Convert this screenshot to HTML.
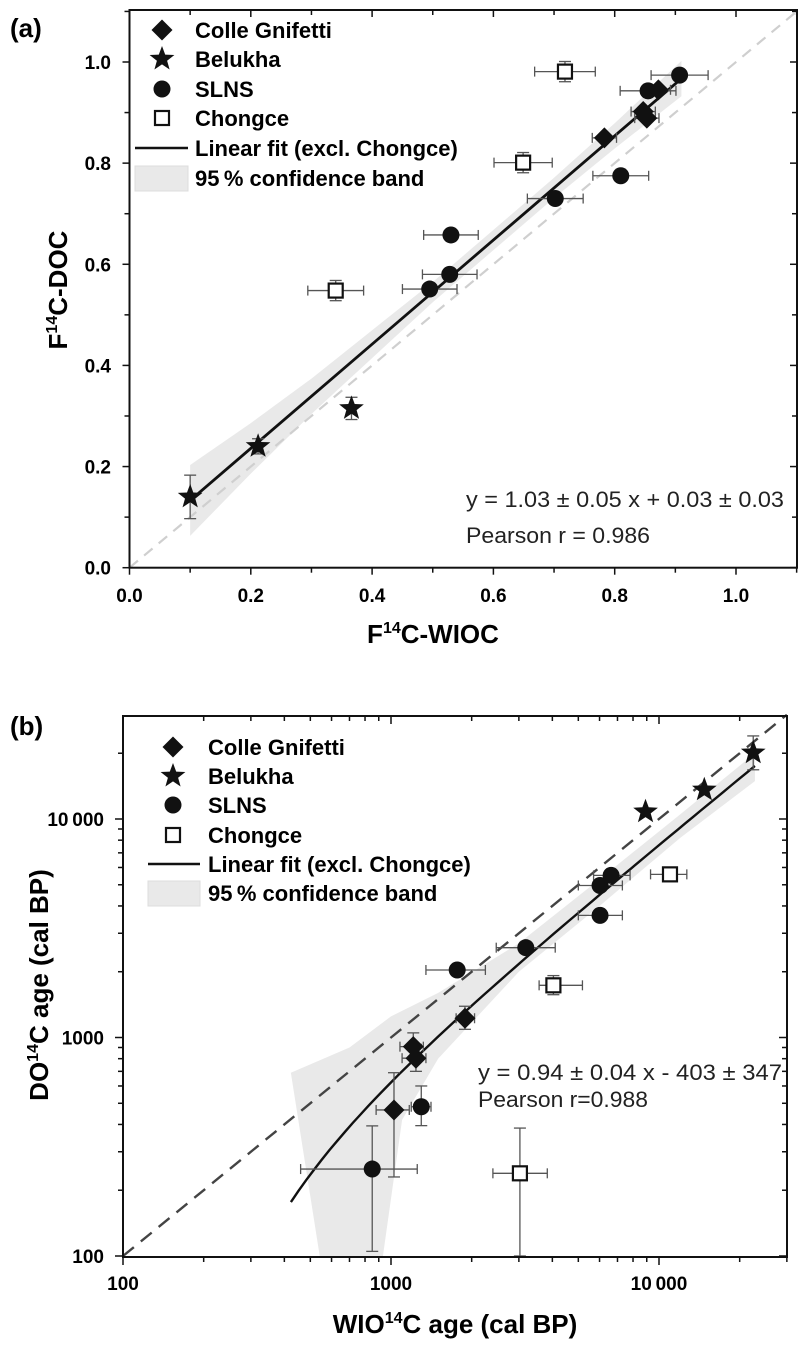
<!DOCTYPE html>
<html><head><meta charset="utf-8"><style>
html,body{margin:0;padding:0;background:#fff;}
svg{display:block;font-family:"Liberation Sans",Arial,sans-serif;}
.tk{font-weight:bold;font-size:19px;fill:#000;}
.ttl{font-weight:bold;font-size:26px;fill:#000;}
.leg{font-weight:bold;font-size:22px;fill:#000;}
.eq{font-size:22px;fill:#222;}
</style></head><body>
<svg id="fig" width="808" height="1352" viewBox="0 0 808 1352"></svg>
<script>
// ---------- Panel (a) data ----------
const aCGx=[0.783,0.847,0.853,0.872];
const aCGy=[0.850,0.902,0.889,0.945];
const aBelx=[0.100,0.212,0.366];
const aBely=[0.140,0.240,0.315];
const aBelYerr=[0.043,0.015,0.022];
const aSLx=[0.907,0.855,0.810,0.702,0.530,0.528,0.495];
const aSLy=[0.974,0.943,0.775,0.730,0.658,0.580,0.551];
const aSLXerr=[0.047,0.046,0.046,0.046,0.045,0.045,0.045];
const aCHx=[0.718,0.649,0.340];
const aCHy=[0.981,0.801,0.548];
const aCHXerr=[0.050,0.048,0.046];
const aFit=[1.03,0.03];          // slope, intercept
const aFitRange=[0.10,0.905];
const aBandX=[0.10,0.20,0.30,0.50,0.70,0.80,0.91];
const aBandHW=[0.070,0.050,0.035,0.020,0.020,0.025,0.035];
const aXTicks=[0.0,0.2,0.4,0.6,0.8,1.0];
const aYTicks=[0.0,0.2,0.4,0.6,0.8,1.0];
// ---------- Panel (b) data ----------
const bCGx=[1026,1211,1239,1888];
const bCGy=[466,908,804,1225];
const bBelx=[8908,14760,22470];
const bBely=[10800,13600,20100];
const bSLx=[851,1297,1766,3184,6026,6026,6627];
const bSLy=[250,482,2037,2577,3623,4963,5521];
const bCHx=[3027,4036,10990];
const bCHy=[239,1733,5580];
const bFit=[0.774,-151];
const bFitRange=[423,22800];
const bBandUpX=[423,700,1000,1500,3000,6000,12000,22800];
const bBandUpY=[690,900,1250,1600,2700,5300,10500,20000];
const bBandLoX=[22800,12000,6000,3000,1500,1100,933,542];
const bBandLoY=[14900,8200,4000,2000,800,420,100,100];
const bXTicks=[100,1000,10000];
const bXTickLabels=["100","1000","10\u2009000"];
const bYTicks=[100,1000,10000];
const bYTickLabels=["100","1000","10\u2009000"];

const NS="http://www.w3.org/2000/svg";
const svg=document.getElementById('fig');
function mk(tag,attrs,parent){const e=document.createElementNS(NS,tag);for(const k in attrs)e.setAttribute(k,attrs[k]);(parent||svg).appendChild(e);return e;}

const ax=v=>129.5+v*606.5, ay=v=>567.7-v*505.7;
const bx=v=>123+(Math.log10(v)-2)*268, by=v=>1256-(Math.log10(v)-2)*218.5;

function errX(g,x1,x2,y){const l=mk('g',{stroke:'#555','stroke-width':1.3},g);
 
 mk('line',{x1:x1,x2:x2,y1:y,y2:y},l);mk('line',{x1:x1,x2:x1,y1:y-5,y2:y+5},l);mk('line',{x1:x2,x2:x2,y1:y-5,y2:y+5},l);}
function errY(g,y1,y2,x){const l=mk('g',{stroke:'#555','stroke-width':1.3},g);
 
 mk('line',{x1:x,x2:x,y1:y1,y2:y2},l);mk('line',{x1:x-6,x2:x+6,y1:y1,y2:y1},l);mk('line',{x1:x-6,x2:x+6,y1:y2,y2:y2},l);}
function marker(g,type,x,y,name){let e;
 if(type==='d'){const s=10.5;e=mk('polygon',{points:`${x},${y-s} ${x+s},${y} ${x},${y+s} ${x-s},${y}`,fill:'#111'},g);}
 else if(type==='c'){e=mk('circle',{cx:x,cy:y,r:8.5,fill:'#111'},g);}
 else if(type==='s'){e=mk('rect',{x:x-7,y:y-7,width:14,height:14,fill:'#fff',stroke:'#111','stroke-width':2.2},g);}
 else {const R=13,r=5.4;let p=[];for(let i=0;i<10;i++){const a=-Math.PI/2+i*Math.PI/5;const rr=i%2?r:R;p.push((x+rr*Math.cos(a)).toFixed(1)+','+(y+rr*Math.sin(a)).toFixed(1));}
  e=mk('polygon',{points:p.join(' '),fill:'#111'},g);}
 
 
 return e;}
function txt(s,attrs,parent){const t=mk('text',attrs,parent);t.textContent=s;return t;}
function sup14(t,pre,post){const a=mk('tspan',{},t);a.textContent=pre;const b=mk('tspan',{'font-size':'16px',dy:-10},t);b.textContent='14';const c=mk('tspan',{dy:10},t);c.textContent=post;}

// ================= PANEL A =================
const pa=mk('g',{});


txt('(a)',{x:10,y:37,class:'ttl'},pa);
{let up=[],lo=[];for(let i=0;i<aBandX.length;i++){const f=aFit[0]*aBandX[i]+aFit[1];up.push(ax(aBandX[i])+','+ay(f+aBandHW[i]));lo.unshift(ax(aBandX[i])+','+ay(f-aBandHW[i]));}
 const b=mk('polygon',{points:up.concat(lo).join(' '),fill:'#e9e9e9'},pa);
 
 }
{const l=mk('line',{x1:ax(0),y1:ay(0),x2:ax(1.103),y2:ay(1.103),stroke:'#cfcfcf','stroke-width':2.2,'stroke-dasharray':'11 8'},pa);
 
 }
{const l=mk('line',{x1:ax(aFitRange[0]),y1:ay(aFit[0]*aFitRange[0]+aFit[1]),x2:ax(aFitRange[1]),y2:ay(aFit[0]*aFitRange[1]+aFit[1]),stroke:'#111','stroke-width':2.8},pa);
 
 }
aBelx.forEach((v,i)=>{errY(pa,ay(aBely[i]+aBelYerr[i]),ay(aBely[i]-aBelYerr[i]),ax(v));});
aSLx.forEach((v,i)=>{errX(pa,ax(v-aSLXerr[i]),ax(v+aSLXerr[i]),ay(aSLy[i]));});
aCHx.forEach((v,i)=>{errX(pa,ax(v-aCHXerr[i]),ax(v+aCHXerr[i]),ay(aCHy[i]));errY(pa,ay(aCHy[i]+0.02),ay(aCHy[i]-0.02),ax(v));});
aCGx.forEach((v,i)=>{errX(pa,ax(v-0.02),ax(v+0.02),ay(aCGy[i]));});
aSLx.forEach((v,i)=>marker(pa,'c',ax(v),ay(aSLy[i]),'slns-point'));
aCGx.forEach((v,i)=>marker(pa,'d',ax(v),ay(aCGy[i]),'colle-gnifetti-point'));
aBelx.forEach((v,i)=>marker(pa,'t',ax(v),ay(aBely[i]),'belukha-point'));
aCHx.forEach((v,i)=>marker(pa,'s',ax(v),ay(aCHy[i]),'chongce-point'));
{const r=mk('rect',{x:129.5,y:10,width:667.5,height:557.7,fill:'none',stroke:'#111','stroke-width':2},pa);
 
 }
for(let k=0;k<=11;k++){const v=k/10,maj=k%2===0,X=ax(v),Y=ay(v);
 mk('line',{x1:X,x2:X,y1:567.7,y2:567.7+(maj?7:5),stroke:'#111','stroke-width':1.5},pa);
 mk('line',{x1:X,x2:X,y1:10,y2:10+(maj?7:5),stroke:'#111','stroke-width':1.5},pa);
 mk('line',{x1:129.5,x2:129.5-(maj?7:5),y1:Y,y2:Y,stroke:'#111','stroke-width':1.5},pa);
 mk('line',{x1:797,x2:797-(maj?7:5),y1:Y,y2:Y,stroke:'#111','stroke-width':1.5},pa);}
aXTicks.forEach(v=>{const t=txt(v.toFixed(1),{x:ax(v),y:602,class:'tk','text-anchor':'middle'},pa);
 
 });
aYTicks.forEach(v=>{const t=txt(v.toFixed(1),{x:111,y:ay(v)+7,class:'tk','text-anchor':'end'},pa);
 
 });
{const t=mk('text',{x:433,y:643,class:'ttl','text-anchor':'middle'},pa);sup14(t,'F','C-WIOC');
 
 }
{const t=mk('text',{x:0,y:0,class:'ttl','text-anchor':'middle',transform:'translate(67,290) rotate(-90)'},pa);sup14(t,'F','C-DOC');
 
 }
{const t=txt('y  = 1.03 \u00b1 0.05  x + 0.03 \u00b1 0.03',{x:466,y:507,class:'eq',textLength:318,lengthAdjust:'spacingAndGlyphs'},pa);
 const p=txt('Pearson r = 0.986',{x:466,y:543,class:'eq',textLength:184,lengthAdjust:'spacingAndGlyphs'},pa);}

function legend(g,sx,tx,ys,lx1,lx2){
 const names=['Colle Gnifetti','Belukha','SLNS','Chongce','Linear fit (excl. Chongce)','95\u2009% confidence band'];
 const types=['d','t','c','s'];
 for(let i=0;i<6;i++){
  const eg=mk('g',{},g);
  
  
  if(i<4)marker(eg,types[i],sx,ys[i],'legend-symbol');
  else if(i===4)mk('line',{x1:lx1,x2:lx2,y1:ys[i],y2:ys[i],stroke:'#111','stroke-width':2.5},eg);
  else mk('rect',{x:lx1,y:ys[i]-12,width:lx2-lx1,height:25,fill:'#e9e9e9',stroke:'#ddd'},eg);
  txt(names[i],{x:tx,y:ys[i]+8,class:'leg'},eg);}
}
legend(pa,162,195,[30,59,89,118,148,178],135,188);

// ================= PANEL B =================
const pb=mk('g',{});


txt('(b)',{x:10,y:735,class:'ttl'},pb);
{let pts=[];bBandUpX.forEach((v,i)=>pts.push(bx(v)+','+by(bBandUpY[i])));bBandLoX.forEach((v,i)=>pts.push(bx(v)+','+by(bBandLoY[i])));
 const b=mk('polygon',{points:pts.join(' '),fill:'#e9e9e9'},pb);
 
 }
{const l=mk('line',{x1:bx(100),y1:by(100),x2:bx(30000),y2:by(30000),stroke:'#444','stroke-width':2.4,'stroke-dasharray':'14 9'},pb);
 
 }
{let pts=[];const n=60,l0=Math.log10(bFitRange[0]),l1=Math.log10(bFitRange[1]);
 for(let i=0;i<=n;i++){const x=Math.pow(10,l0+(l1-l0)*i/n);pts.push(bx(x).toFixed(1)+','+by(bFit[0]*x+bFit[1]).toFixed(1));}
 const l=mk('polyline',{points:pts.join(' '),fill:'none',stroke:'#111','stroke-width':2.4},pb);
 
 }
const bSLxe=[[460,1253],[1190,1410],[1350,2250],[2470,4100],[5000,7300],[5000,7300],[5700,7800]];
const bSLye=[[105,394],[395,600],null,null,null,null,null];
bSLx.forEach((v,i)=>{errX(pb,bx(bSLxe[i][0]),bx(bSLxe[i][1]),by(bSLy[i]));if(bSLye[i])errY(pb,by(bSLye[i][1]),by(bSLye[i][0]),bx(v));});
const bCGxe=[[880,1170],[1080,1320],[1100,1350],[1750,2050]];
const bCGye=[[230,690],[800,1050],[700,930],[1090,1390]];
bCGx.forEach((v,i)=>{errX(pb,bx(bCGxe[i][0]),bx(bCGxe[i][1]),by(bCGy[i]));errY(pb,by(bCGye[i][1]),by(bCGye[i][0]),bx(v));});
const bCHxe=[[2400,3830],[3570,5180],[9300,12700]];
const bCHye=[[100,385],[1570,1920],[5400,5760]];
bCHx.forEach((v,i)=>{errX(pb,bx(bCHxe[i][0]),bx(bCHxe[i][1]),by(bCHy[i]));errY(pb,by(bCHye[i][1]),by(Math.max(bCHye[i][0],95)),bx(v));});
errY(pb,by(24000),by(16800),bx(bBelx[2]));
bSLx.forEach((v,i)=>marker(pb,'c',bx(v),by(bSLy[i]),'slns-point'));
bCGx.forEach((v,i)=>marker(pb,'d',bx(v),by(bCGy[i]),'colle-gnifetti-point'));
bBelx.forEach((v,i)=>marker(pb,'t',bx(v),by(bBely[i]),'belukha-point'));
bCHx.forEach((v,i)=>marker(pb,'s',bx(v),by(bCHy[i]),'chongce-point'));
{const r=mk('rect',{x:123,y:716,width:664,height:541,fill:'none',stroke:'#111','stroke-width':2},pb);
 
 }
for(let d=100;d<=10000;d*=10){for(let m=1;m<=9;m++){const v=d*m;const maj=m===1;
  if(v<=30000){const X=bx(v);
   mk('line',{x1:X,x2:X,y1:1257,y2:1257+(maj?8:5),stroke:'#111','stroke-width':1.5},pb);
   mk('line',{x1:X,x2:X,y1:716,y2:716+(maj?8:5),stroke:'#111','stroke-width':1.5},pb);}
  if(v<=30000){const Y=by(v);if(Y>=716){
   mk('line',{x1:123,x2:123-(maj?8:5),y1:Y,y2:Y,stroke:'#111','stroke-width':1.5},pb);
   mk('line',{x1:787,x2:787-(maj?8:5),y1:Y,y2:Y,stroke:'#111','stroke-width':1.5},pb);}}}}
bXTicks.forEach((v,i)=>{const t=txt(bXTickLabels[i],{x:bx(v),y:1290,class:'tk','text-anchor':'middle'},pb);
 
 });
bYTicks.forEach((v,i)=>{const t=txt(bYTickLabels[i],{x:104,y:by(v)+7,class:'tk','text-anchor':'end'},pb);
 
 });
{const t=mk('text',{x:455,y:1333,class:'ttl','text-anchor':'middle'},pb);sup14(t,'WIO','C age (cal BP)');
 
 }
{const t=mk('text',{x:0,y:0,class:'ttl','text-anchor':'middle',transform:'translate(48,985) rotate(-90)'},pb);sup14(t,'DO','C age (cal BP)');
 
 }
{const t=txt('y  = 0.94 \u00b1 0.04  x - 403 \u00b1 347',{x:478,y:1080,class:'eq',textLength:304,lengthAdjust:'spacingAndGlyphs'},pb);
 const p=txt('Pearson r=0.988',{x:478,y:1107,class:'eq',textLength:170,lengthAdjust:'spacingAndGlyphs'},pb);}
legend(pb,173,208,[747,776,805,835,864,893],148,200);
</script>
</body></html>
